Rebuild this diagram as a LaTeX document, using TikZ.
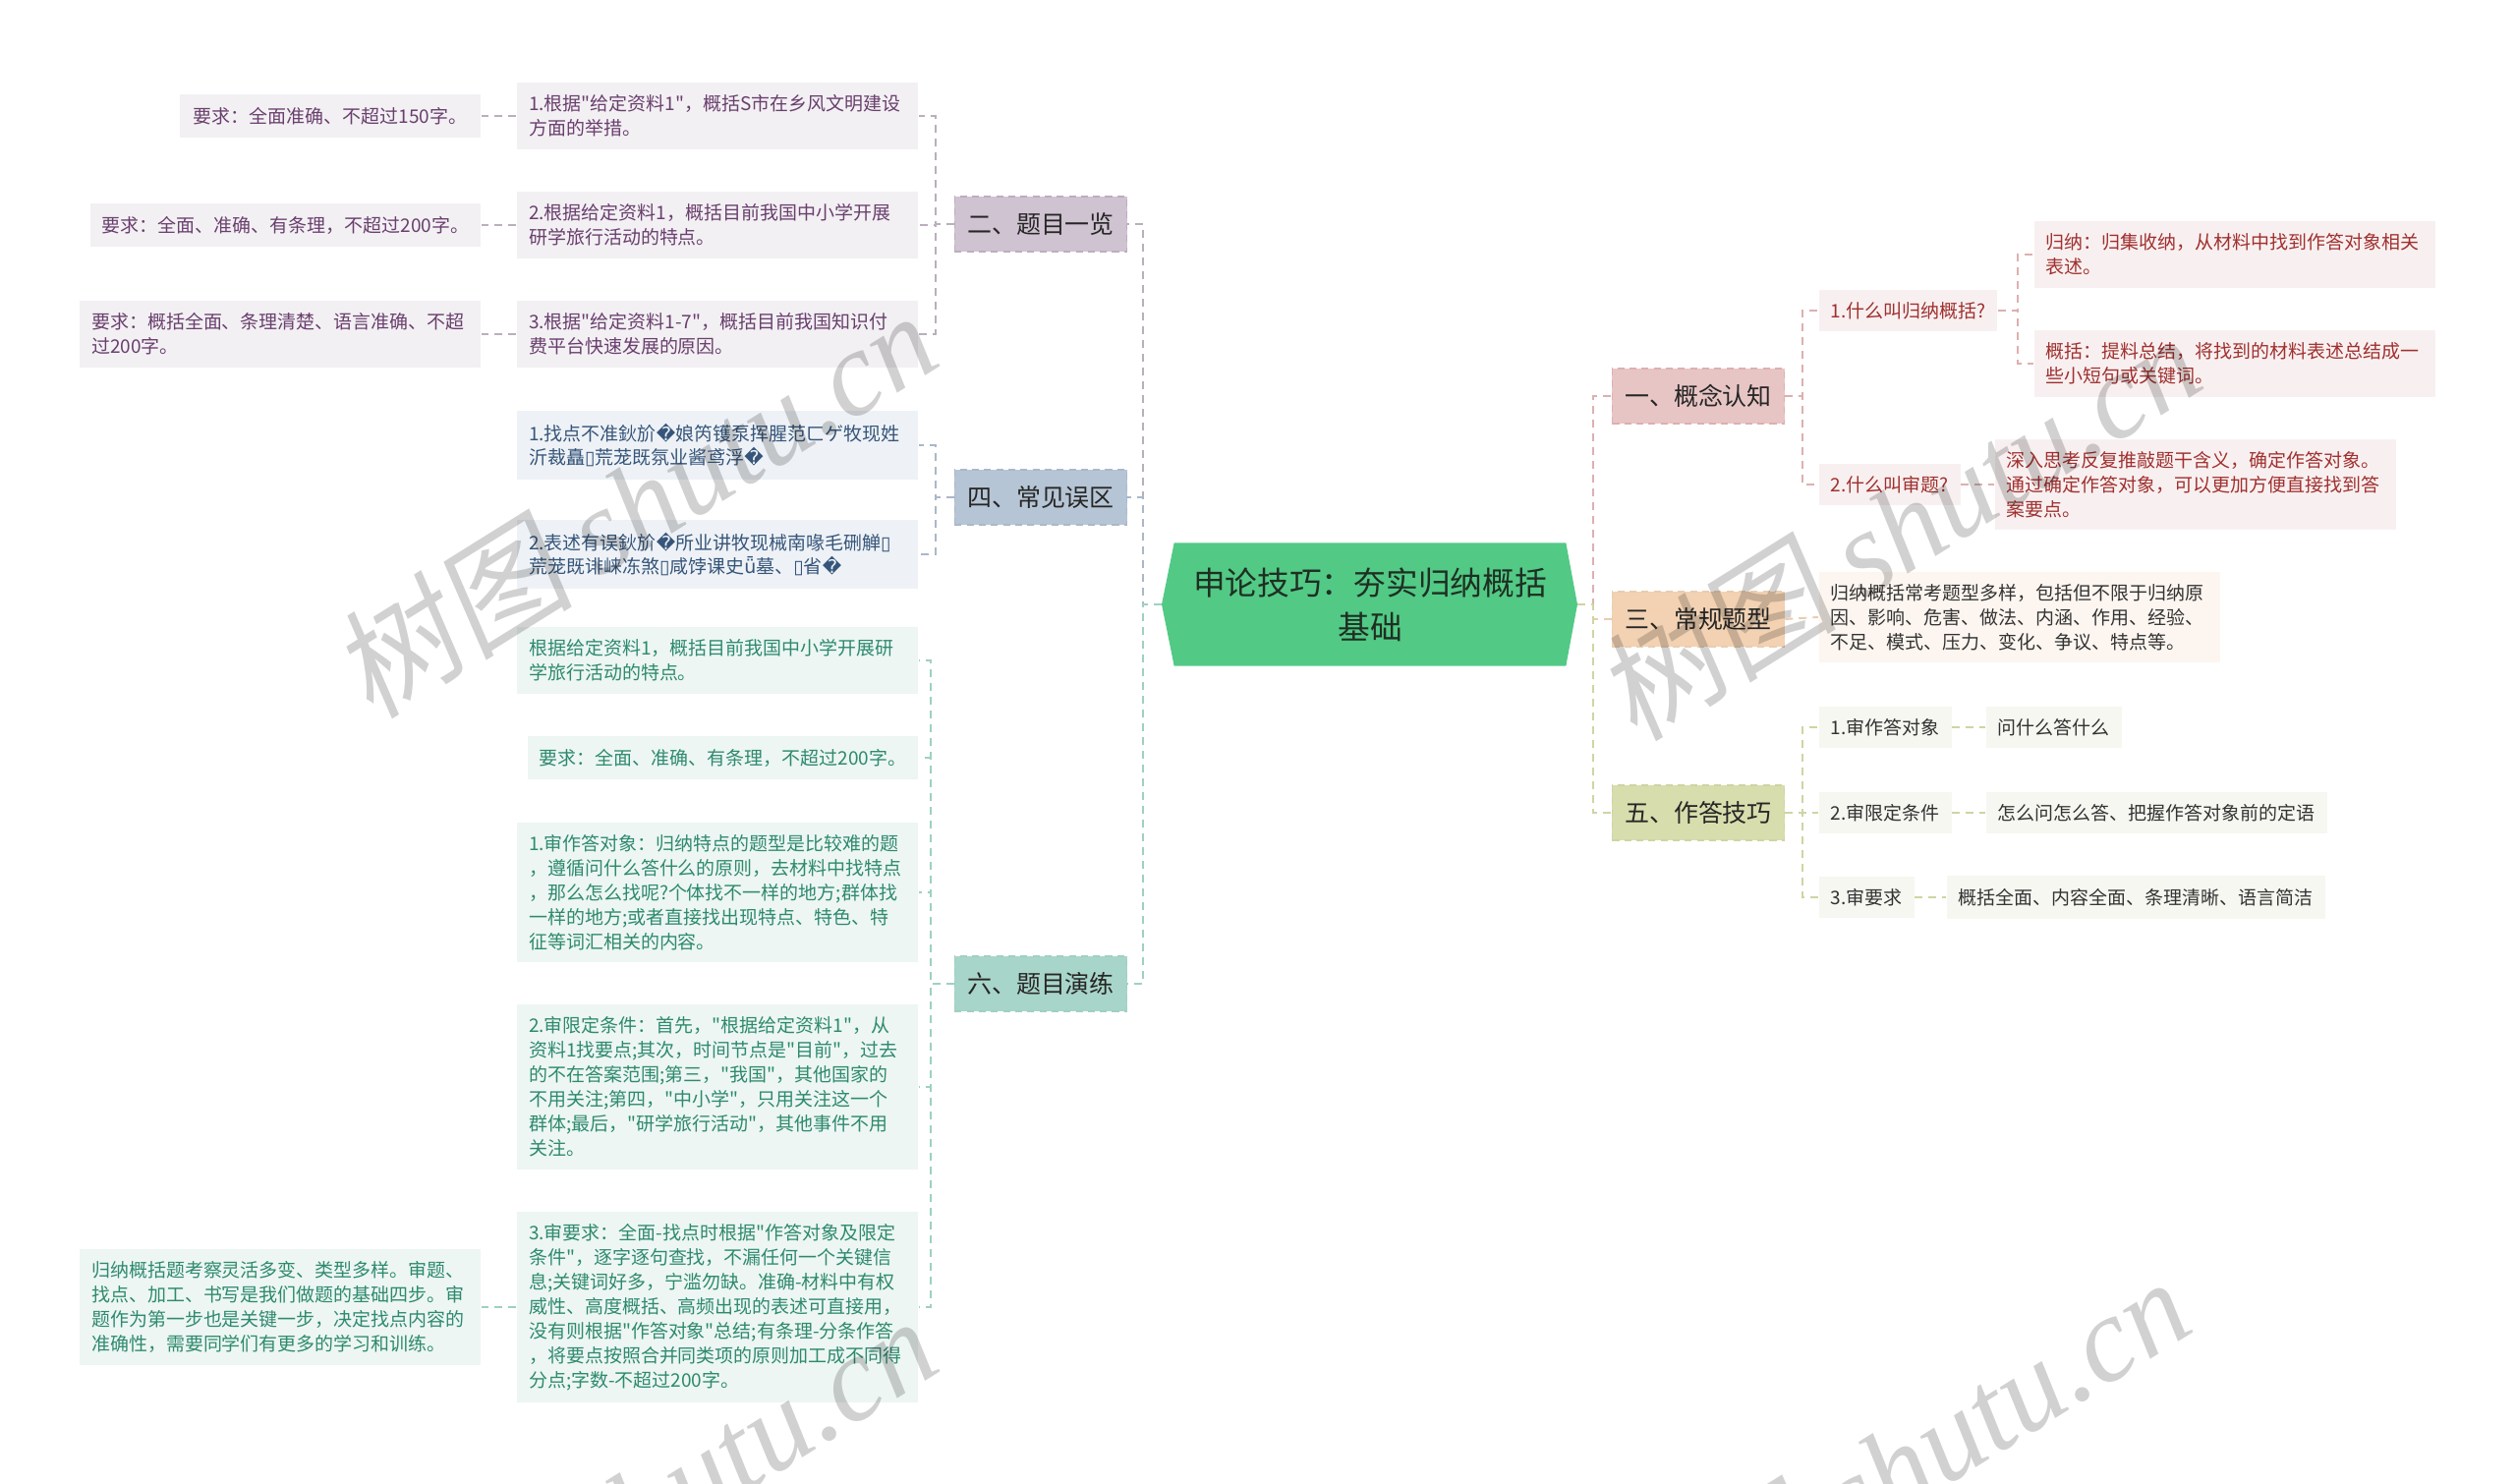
\documentclass[tikz,border=0pt]{standalone}
\usepackage{fontspec}
\setmainfont{Noto Sans CJK SC}
\newfontfamily\cjk{Noto Sans CJK SC}
\newfontfamily\repfont{DejaVu Sans}
\newfontfamily\wmserif{Liberation Serif}
\newfontfamily\wmcjk[FakeSlant=0.15]{Noto Sans CJK SC}
\usepackage{tikz}
\usetikzlibrary{positioning,backgrounds}

\definecolor{rootgreen}{HTML}{52C985}
\definecolor{rootink}{HTML}{1E2F22}
% branch colours: fill, leaf fill, leaf text, line
\definecolor{twofill}{HTML}{CFC2D1}\definecolor{twoleaf}{HTML}{F2F0F3}\definecolor{twoink}{HTML}{6A3F6E}\definecolor{twoline}{HTML}{BBAEBD}
\definecolor{fourfill}{HTML}{B6C5D5}\definecolor{fourleaf}{HTML}{EEF2F6}\definecolor{fourink}{HTML}{36557A}\definecolor{fourline}{HTML}{AAB8C8}
\definecolor{sixfill}{HTML}{A8D5C9}\definecolor{sixleaf}{HTML}{EDF6F3}\definecolor{sixink}{HTML}{2E8A6D}\definecolor{sixline}{HTML}{9FD0C3}
\definecolor{onefill}{HTML}{E8C5C5}\definecolor{oneleaf}{HTML}{F8F0F0}\definecolor{oneink}{HTML}{A0302F}\definecolor{oneline}{HTML}{DDB0B0}
\definecolor{threefill}{HTML}{F2D2B3}\definecolor{threeleaf}{HTML}{FDF6F0}\definecolor{threeline}{HTML}{E9CDAF}
\definecolor{fivefill}{HTML}{D7DDAC}\definecolor{fiveleaf}{HTML}{F6F7F1}\definecolor{fiveline}{HTML}{CED5A3}
\definecolor{plainink}{HTML}{333333}

\newcommand{\leaffont}{\cjk\fontsize{5.4pt}{7.1pt}\selectfont}
\newcommand{\branchfont}{\cjk\fontsize{7.1pt}{8.5pt}\selectfont}
\newcommand{\rootfont}{\cjk\fontsize{9.3pt}{12.8pt}\selectfont}
\newcommand{\rep}{{\repfont\char"FFFD}}
\newcommand{\tofu}{{\repfont\char"25AF}}

\begin{document}
\begin{tikzpicture}[x=0.01cm, y=-0.01cm,
leaf/.style={inner xsep=0.12cm, inner ysep=3.6pt, align=left, font=\leaffont},
wide/.style={text width=3.84cm},
branch/.style={minimum width=1.75cm, minimum height=0.56cm, inner sep=0pt, font=\branchfont, text=black!85, draw, dash pattern=on 2pt off 1.5pt, line width=0.4pt},
link/.style={dash pattern=on 0.08cm off 0.06cm, line width=0.55pt},
wmark/.style={text=black, opacity=0.18, rotate=32, font=\fontsize{35pt}{35pt}\selectfont}]
\useasboundingbox (0,0) rectangle (2560,1510);

% root
\node[font=\rootfont, text=rootink, align=center, minimum width=3.97cm, minimum height=1.24cm, inner sep=0pt] (root) at (1394,615) {申论技巧：夯实归纳概括\\基础};
\coordinate (rootL) at (1182,615);
\coordinate (rootR) at (1605,615);
\begin{scope}[on background layer]
\fill[rootgreen] (root.north west) -- (root.north east) -- (rootR) -- (root.south east) -- (root.south west) -- (rootL) -- cycle;
\end{scope}

% main branches
\node[branch, fill=twofill, draw=twoline] (b2) at (1059,228) {二、题目一览};
\node[branch, fill=fourfill, draw=fourline] (b4) at (1059,506) {四、常见误区};
\node[branch, fill=sixfill, draw=sixline] (b6) at (1059,1001) {六、题目演练};
\node[branch, fill=onefill, draw=oneline] (b1) at (1728,403) {一、概念认知};
\node[branch, fill=threefill, draw=threeline] (b3) at (1728,630) {三、常规题型};
\node[branch, fill=fivefill, draw=fiveline] (b5) at (1728,827) {五、作答技巧};

% 二
\node[leaf, wide, fill=twoleaf, text=twoink, anchor=east] (q1) at (935,118) {1.根据"给定资料1"，概括S市在乡风文明建设\\方面的举措。};
\node[leaf, wide, fill=twoleaf, text=twoink, anchor=east] (q2) at (935,229) {2.根据给定资料1，概括目前我国中小学开展\\研学旅行活动的特点。};
\node[leaf, wide, fill=twoleaf, text=twoink, anchor=east] (q3) at (935,340) {3.根据"给定资料1-7"，概括目前我国知识付\\费平台快速发展的原因。};
\node[leaf, inner xsep=0.14cm, fill=twoleaf, text=twoink, anchor=east] (r1) at (490,118) {要求：全面准确、不超过150字。};
\node[leaf, fill=twoleaf, text=twoink, anchor=east] (r2) at (490,229) {要求：全面、准确、有条理，不超过200字。};
\node[leaf, wide, fill=twoleaf, text=twoink, anchor=east] (r3) at (490,340) {要求：概括全面、条理清楚、语言准确、不超\\过200字。};

% 四
\node[leaf, wide, fill=fourleaf, text=fourink, anchor=east] (m1) at (935,453) {1.找点不准鈥斺\rep 娘笍镬泵挥腥范ㄈゲ牧现姓\\沂裁矗\tofu 荒茏既氛业酱鸢浮\rep};
\node[leaf, wide, fill=fourleaf, text=fourink, anchor=east] (m2) at (935,564) {2.表述有误鈥斺\rep 所业讲牧现械南喙毛硎觯\tofu\\荒茏既诽崃冻煞\tofu 咸饽课史{\repfont ǖ}墓、\tofu 省\rep};

% 六
\node[leaf, wide, fill=sixleaf, text=sixink, anchor=east] (p0) at (935,672) {根据给定资料1，概括目前我国中小学开展研\\学旅行活动的特点。};
\node[leaf, fill=sixleaf, text=sixink, anchor=east] (p1) at (935,771) {要求：全面、准确、有条理，不超过200字。};
\node[leaf, wide, fill=sixleaf, text=sixink, anchor=east] (p2) at (935,908) {1.审作答对象：归纳特点的题型是比较难的题\\，遵循问什么答什么的原则，去材料中找特点\\，那么怎么找呢?个体找不一样的地方;群体找\\一样的地方;或者直接找出现特点、特色、特\\征等词汇相关的内容。};
\node[leaf, wide, fill=sixleaf, text=sixink, anchor=east] (p3) at (935,1106) {2.审限定条件：首先，"根据给定资料1"，从\\资料1找要点;其次，时间节点是"目前"，过去\\的不在答案范围;第三，"我国"，其他国家的\\不用关注;第四，"中小学"，只用关注这一个\\群体;最后，"研学旅行活动"，其他事件不用\\关注。};
\node[leaf, wide, fill=sixleaf, text=sixink, anchor=east] (p4) at (935,1330) {3.审要求：全面-找点时根据"作答对象及限定\\条件"，逐字逐句查找，不漏任何一个关键信\\息;关键词好多，宁滥勿缺。准确-材料中有权\\威性、高度概括、高频出现的表述可直接用，\\没有则根据"作答对象"总结;有条理-分条作答\\，将要点按照合并同类项的原则加工成不同得\\分点;字数-不超过200字。};
\node[leaf, wide, fill=sixleaf, text=sixink, anchor=east] (p5) at (490,1330) {归纳概括题考察灵活多变、类型多样。审题、\\找点、加工、书写是我们做题的基础四步。审\\题作为第一步也是关键一步，决定找点内容的\\准确性，需要同学们有更多的学习和训练。};

% 一
\node[leaf, fill=oneleaf, text=oneink, anchor=west] (a1) at (1850,316) {1.什么叫归纳概括?};
\node[leaf, fill=oneleaf, text=oneink, anchor=west] (a2) at (1850,493) {2.什么叫审题?};
\node[leaf, wide, fill=oneleaf, text=oneink, anchor=west] (aa1) at (2069,259) {归纳：归集收纳，从材料中找到作答对象相关\\表述。};
\node[leaf, wide, fill=oneleaf, text=oneink, anchor=west] (aa2) at (2069,370) {概括：提料总结，将找到的材料表述总结成一\\些小短句或关键词。};
\node[leaf, wide, fill=oneleaf, text=oneink, anchor=west] (ab) at (2029,493) {深入思考反复推敲题干含义，确定作答对象。\\通过确定作答对象，可以更加方便直接找到答\\案要点。};

% 三
\node[leaf, wide, fill=threeleaf, text=plainink, anchor=west] (c1) at (1850,628) {归纳概括常考题型多样，包括但不限于归纳原\\因、影响、危害、做法、内涵、作用、经验、\\不足、模式、压力、变化、争议、特点等。};

% 五
\node[leaf, fill=fiveleaf, text=plainink, anchor=west] (d1) at (1850,740) {1.审作答对象};
\node[leaf, fill=fiveleaf, text=plainink, anchor=west] (d2) at (1850,827) {2.审限定条件};
\node[leaf, fill=fiveleaf, text=plainink, anchor=west] (d3) at (1850,913) {3.审要求};
\node[leaf, fill=fiveleaf, text=plainink, anchor=west] (e1) at (2020,740) {问什么答什么};
\node[leaf, fill=fiveleaf, text=plainink, anchor=west] (e2) at (2020,827) {怎么问怎么答、把握作答对象前的定语};
\node[leaf, fill=fiveleaf, text=plainink, anchor=west] (e3) at (1980,913) {概括全面、内容全面、条理清晰、语言简洁};

% links from root
\draw[link, twoline] (rootL) -- +(-19,0) |- (b2.east);
\draw[link, fourline] (rootL) -- +(-19,0) |- (b4.east);
\draw[link, sixline] (rootL) -- +(-19,0) |- (b6.east);
\draw[link, oneline] (rootR) -- +(16,0) |- (b1.west);
\draw[link, threeline] (rootR) -- +(16,0) |- (b3.west);
\draw[link, fiveline] (rootR) -- +(16,0) |- (b5.west);

% left links
\foreach \n in {q1,q2,q3} \draw[link, twoline] (b2.west) -- +(-19,0) |- (\n.east);
\draw[link, twoline] (q1.west) -- (r1.east);
\draw[link, twoline] (q2.west) -- (r2.east);
\draw[link, twoline] (q3.west) -- (r3.east);
\foreach \n in {m1,m2} \draw[link, fourline] (b4.west) -- +(-19,0) |- (\n.east);
\foreach \n in {p0,p1,p2,p3,p4} \draw[link, sixline] (b6.west) -- +(-24,0) |- (\n.east);
\draw[link, sixline] (p4.west) -- (p5.east);

% right links
\foreach \n in {a1,a2} \draw[link, oneline] (b1.east) -- +(18,0) |- (\n.west);
\foreach \n in {aa1,aa2} \draw[link, oneline] (a1.east) -- +(20,0) |- (\n.west);
\draw[link, oneline] (a2.east) -- (ab.west);
\draw[link, threeline] (b3.east) -- (c1.west);
\foreach \n in {d1,d2,d3} \draw[link, fiveline] (b5.east) -- +(18,0) |- (\n.west);
\draw[link, fiveline] (d1.east) -- (e1.west);
\draw[link, fiveline] (d2.east) -- (e2.west);
\draw[link, fiveline] (d3.east) -- (e3.west);

% watermark
\begin{scope}
\clip (0,0) rectangle (2560,1510);
\node[wmark] (w1) at (645,512) {{\wmcjk 树图} {\wmserif\itshape shutu.cn}};
\node[wmark] (w2) at (1931,535) {{\wmcjk 树图} {\wmserif\itshape shutu.cn}};
\node[wmark] (w3) at (645,1535) {{\wmcjk 树图} {\wmserif\itshape shutu.cn}};
\node[wmark] (w4) at (1920,1495) {{\wmcjk 树图} {\wmserif\itshape shutu.cn}};
\end{scope}
\end{tikzpicture}
\end{document}
